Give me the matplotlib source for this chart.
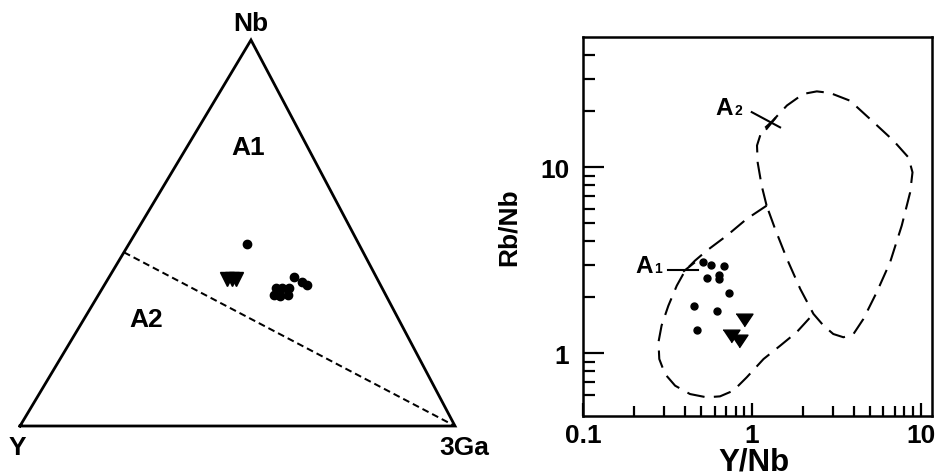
import matplotlib
matplotlib.use('Agg')
import matplotlib.pyplot as plt
import numpy as np

plt.rcParams['font.family'] = ['Liberation Sans', 'DejaVu Sans']
plt.rcParams['font.weight'] = 'bold'

# ---- ternary Nb - Y - 3Ga (percent) ----
tern_dot_nb = [47.2, 35.8, 35.8, 35.8, 33.9, 33.8, 33.9, 38.5, 37.4, 36.5]
tern_dot_y = [25.6, 24.4, 22.9, 21.3, 25.7, 24.3, 22.4, 18.9, 17.7, 17.0]
tern_dot_ga = [27.2, 39.8, 41.3, 42.9, 40.4, 41.9, 43.7, 42.6, 44.9, 46.5]

tern_tri_nb = [38.2, 38.2, 38.2]
tern_tri_y = [34.6, 33.4, 32.4]
tern_tri_ga = [27.2, 28.4, 29.4]

# A1 / A2 divide: from the Nb-Y edge to the 3Ga apex
divide_nb = [45.0, 0.0]
divide_y = [55.0, 0.0]
divide_ga = [0.0, 100.0]

# ---- Y/Nb vs Rb/Nb ----
dot_ynb = [0.51, 0.57, 0.68, 0.54, 0.64, 0.64, 0.73, 0.455, 0.62, 0.475]
dot_rbnb = [3.10, 2.97, 2.95, 2.54, 2.63, 2.50, 2.11, 1.80, 1.69, 1.33]

tri_ynb = [0.90, 0.75, 0.84]
tri_rbnb = [1.51, 1.24, 1.16]

# A2 field (closed outline)
a2_x = [1.22, 1.14, 1.08, 1.07, 1.14, 1.31, 1.61, 2.01, 2.42, 2.90, 3.81, 5.24,
        6.89, 8.45, 8.93, 8.65, 7.71, 6.58, 5.48, 4.57, 3.99, 3.48, 3.03, 2.65,
        2.31, 1.93, 1.61, 1.37]
a2_y = [6.22, 7.97, 10.6, 13.1, 15.7, 17.6, 21.5, 24.8, 25.6, 25.1, 22.8, 17.5,
        13.9, 11.3, 9.40, 7.34, 4.86, 3.09, 2.13, 1.53, 1.27, 1.22, 1.27, 1.41,
        1.63, 2.22, 3.22, 4.66]

# A1 field (shares its right side with the A2 outline)
a1_x = [1.22, 0.93, 0.708, 0.538, 0.459, 0.401, 0.358, 0.319, 0.291, 0.279, 0.282,
        0.305, 0.350, 0.429, 0.538, 0.646, 0.775, 0.93, 1.17, 1.47, 1.84, 2.31]
a1_y = [6.22, 5.28, 4.29, 3.56, 3.15, 2.78, 2.31, 1.80, 1.41, 1.15, 0.932,
        0.774, 0.670, 0.604, 0.580, 0.587, 0.630, 0.743, 0.932, 1.10, 1.30, 1.63]

# field labels and their leader lines
a1_label_xy = (0.26, 2.75)
a1_leader_x = [0.318, 0.479]
a1_leader_y = [2.82, 2.82]
a1_tick_x = [0.395, 0.453]
a1_tick_y = [2.77, 3.06]

a2_label_xy = (0.775, 19.4)
a2_leader_x = [0.996, 1.466]
a2_leader_y = [19.8, 16.4]
a2_tick_x = [1.22, 1.37]
a2_tick_y = [16.1, 18.3]

APEX_X = 0.531  # the drawn triangle leans a little to the right


def tern_xy(nb, y, ga):
    nb = np.asarray(nb, float)
    y = np.asarray(y, float)
    ga = np.asarray(ga, float)
    s = nb + y + ga
    return ga / s + APEX_X * nb / s, nb / s


fig = plt.figure(figsize=(9.43, 4.77), dpi=100)
W, H = 943.0, 477.0

# ---------------- left: ternary ----------------
axt = fig.add_axes([20 / W, 50 / H, 435 / W, 386 / H])
axt.set_xlim(0, 1)
axt.set_ylim(0, 1)
axt.axis('off')

vx, vy = tern_xy([0, 0, 100, 0], [100, 0, 0, 100], [0, 100, 0, 0])
axt.plot(vx, vy, color='black', lw=2.0, solid_joinstyle='miter', clip_on=False)

dx, dy = tern_xy(divide_nb, divide_y, divide_ga)
axt.plot(dx, dy, color='black', lw=1.45, dashes=(3.4, 2.0), clip_on=False)

px, py = tern_xy(tern_dot_nb, tern_dot_y, tern_dot_ga)
axt.plot(px, py, 'o', color='black', ms=6.0, mec='black', clip_on=False)
qx, qy = tern_xy(tern_tri_nb, tern_tri_y, tern_tri_ga)
axt.plot(qx, qy, 'v', color='black', ms=10, mec='black', clip_on=False)

fs = 19
axt.text(0.531, 1.044, 'Nb', ha='center', va='center', fontsize=fs, fontweight='bold')
axt.text(-0.005, -0.054, 'Y', ha='center', va='center', fontsize=fs, fontweight='bold')
axt.text(1.021, -0.054, '3Ga', ha='center', va='center', fontsize=fs, fontweight='bold')
axt.text(0.525, 0.722, 'A1', ha='center', va='center', fontsize=fs, fontweight='bold')
axt.text(0.290, 0.277, 'A2', ha='center', va='center', fontsize=fs, fontweight='bold')

# ---------------- right: Y/Nb vs Rb/Nb ----------------
ax = fig.add_axes([583.3 / W, 60.3 / H, 349 / W, 378.4 / H])
ax.set_xscale('log')
ax.set_yscale('log')
ax.set_xlim(0.1, 11.7)
ax.set_ylim(0.462, 50)

dash = (8.5, 4.5)
ax.plot(a2_x + a2_x[:1], a2_y + a2_y[:1], color='black', lw=1.5, dashes=dash)
ax.plot(a1_x, a1_y, color='black', lw=1.5, dashes=dash)

for lx, ly in [(a1_leader_x, a1_leader_y), (a1_tick_x, a1_tick_y),
               (a2_leader_x, a2_leader_y), (a2_tick_x, a2_tick_y)]:
    ax.plot(lx, ly, color='black', lw=1.5)

tri_marker = [(-1, 0.75), (1, 0.75), (0, -0.75)]
ax.plot(dot_ynb, dot_rbnb, 'o', color='black', ms=5.0)
ax.plot(tri_ynb, tri_rbnb, marker=tri_marker, ls='none', color='black', ms=12.2)

for xy, sub in [(a1_label_xy, '1'), (a2_label_xy, '2')]:
    ax.text(xy[0], xy[1], 'A', ha='right', va='baseline', fontsize=17.5, fontweight='bold')
    ax.annotate(sub, xy=xy, xytext=(0.6, 0), textcoords='offset points',
                ha='left', va='baseline', fontsize=10, fontweight='bold')

for s in ax.spines.values():
    s.set_linewidth(1.8)

ax.set_xticks([0.1, 1, 10])
ax.set_xticklabels(['0.1', '1', '10'])
ax.set_xticks([0.2, 0.3, 0.4, 0.5, 0.6, 0.7, 0.8, 0.9,
               2, 3, 4, 5, 6, 7, 8, 9], minor=True)
ax.set_yticks([1, 10])
ax.set_yticklabels(['1', '10'])
ax.set_yticks([0.6, 0.7, 0.8, 0.9, 2, 3, 4, 5, 6, 7, 8, 9, 20, 30, 40], minor=True)
ax.xaxis.set_minor_formatter(plt.NullFormatter())
ax.yaxis.set_minor_formatter(plt.NullFormatter())

ax.tick_params(which='both', direction='in', top=False, right=False,
               labelsize=19, width=1.6, color='black')
ax.tick_params(axis='x', which='major', length=9.5, pad=5)
ax.tick_params(axis='x', which='minor', length=7)
ax.tick_params(axis='y', which='major', length=15, pad=10)
ax.tick_params(axis='y', which='minor', length=8.5)
for lab in ax.get_xticklabels() + ax.get_yticklabels():
    lab.set_fontweight('bold')

ax.text(-0.213, 0.5, 'Rb/Nb', rotation=90, ha='center', va='center',
        transform=ax.transAxes, fontsize=19, fontweight='bold')
# x label sits right at the bottom edge, as in the source figure
ax.text(0.489, (416.7 - 470.5) / 378.4, 'Y/Nb', ha='center', va='baseline',
        transform=ax.transAxes, fontsize=22.5, fontweight='bold')

fig.savefig('out.png', dpi=100)
